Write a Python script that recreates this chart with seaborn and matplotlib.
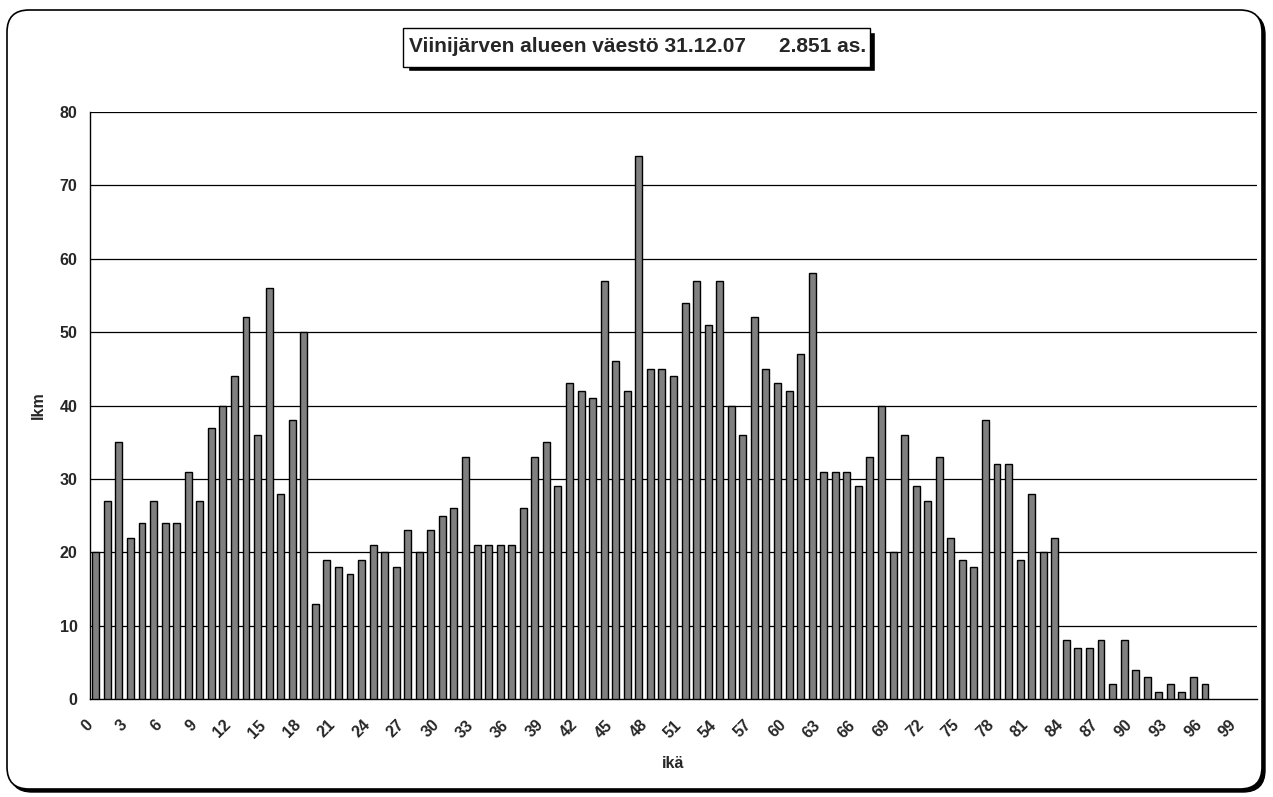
import numpy as np
import pandas as pd
import matplotlib
matplotlib.use("Agg")
import matplotlib.pyplot as plt
from matplotlib.patches import FancyBboxPatch, Rectangle
import seaborn as sns

# ages 0..100 and number of residents per age
ages = list(range(101))
counts = [20, 27, 35, 22, 24, 27, 24, 24, 31, 27,
          37, 40, 44, 52, 36, 56, 28, 38, 50, 13,
          19, 18, 17, 19, 21, 20, 18, 23, 20, 23,
          25, 26, 33, 21, 21, 21, 21, 26, 33, 35,
          29, 43, 42, 41, 57, 46, 42, 74, 45, 45,
          44, 54, 57, 51, 57, 40, 36, 52, 45, 43,
          42, 47, 58, 31, 31, 31, 29, 33, 40, 20,
          36, 29, 27, 33, 22, 19, 18, 38, 32, 32,
          19, 28, 20, 22, 8, 7, 7, 8, 2, 8,
          4, 3, 1, 2, 1, 3, 2, 0, 0, 0, 0]
yticks = [0, 10, 20, 30, 40, 50, 60, 70, 80]
title_left = "Viinijärven alueen väestö 31.12.07"
title_right = "2.851 as."

df = pd.DataFrame({"ika": ages, "lkm": counts})

sns.set_style("white")
plt.rcParams["font.family"] = ["Liberation Sans", "DejaVu Sans"]
plt.rcParams["font.weight"] = "bold"

W, H = 1273, 797
fig = plt.figure(figsize=(W / 100, H / 100), dpi=100)

# outer rounded frame with shadow (pixel coords)
fig.patches.append(FancyBboxPatch((10, 5), 1255, 779, boxstyle="round,pad=0,rounding_size=22",
                                  transform=None, facecolor="black", edgecolor="black", zorder=0))
fig.patches.append(FancyBboxPatch((7, 8), 1255, 779, boxstyle="round,pad=0,rounding_size=22",
                                  transform=None, facecolor="white", edgecolor="black", lw=1.2, zorder=1))

# title box with shadow
fig.patches.append(Rectangle((408, 726), 467, 39, transform=None, facecolor="black", zorder=2))
fig.patches.append(Rectangle((403, 730), 467, 39, transform=None, facecolor="white",
                             edgecolor="black", lw=1, zorder=3))
fig.text(409 / W, 750 / H, title_left, ha="left", va="center", fontsize=15,
         fontweight="bold", zorder=4)
fig.text(866 / W, 750 / H, title_right, ha="right", va="center", fontsize=15,
         fontweight="bold", zorder=4)

ax = fig.add_axes([90 / W, 1 - 699 / H, (1257 - 90) / W, (699 - 112) / H])
ax.set_facecolor("none")
ax.set_zorder(5)

sns.barplot(data=df, x="ika", y="lkm", color="#808080", edgecolor="black",
            linewidth=1, width=0.6, saturation=1, ax=ax, zorder=3)
# empty ages get no visible bar
for p in ax.patches:
    if p.get_height() == 0:
        p.set_visible(False)

ax.set_yticks(yticks)
ax.set_yticklabels([str(v) for v in yticks], fontsize=11.5, fontweight="bold")
for y in yticks[1:]:
    ax.axhline(y, color="black", lw=0.9, zorder=1)

# labels every 3rd age (nudged left like Excel's rotated labels), tick marks between categories
label_shift = 0.48
ax.set_xticks([a - label_shift for a in ages[::3]])
ax.set_xticklabels([str(a) for a in ages[::3]], rotation=45, ha="right", va="center",
                   rotation_mode="anchor", fontsize=11.5, fontweight="bold")
ax.set_xticks(np.arange(-0.5, 101, 1), minor=True)
ax.tick_params(axis="x", which="major", length=0, pad=17)
ax.tick_params(axis="x", which="minor", length=5, width=1, color="black", direction="out")
ax.tick_params(axis="y", which="major", length=5, width=1, color="black", direction="out", pad=4)
ax.set_xlim(-0.5, 100.5)
ax.set_ylim(0, 80)

for side in ["top", "right"]:
    ax.spines[side].set_visible(False)
for side in ["left", "bottom"]:
    ax.spines[side].set_color("black")
    ax.spines[side].set_linewidth(1)

ax.set_xlabel("ikä", fontsize=11.5, fontweight="bold", labelpad=11)
ax.set_ylabel("lkm", fontsize=11.5, fontweight="bold", labelpad=10)

fig.savefig("out.png", dpi=100)
